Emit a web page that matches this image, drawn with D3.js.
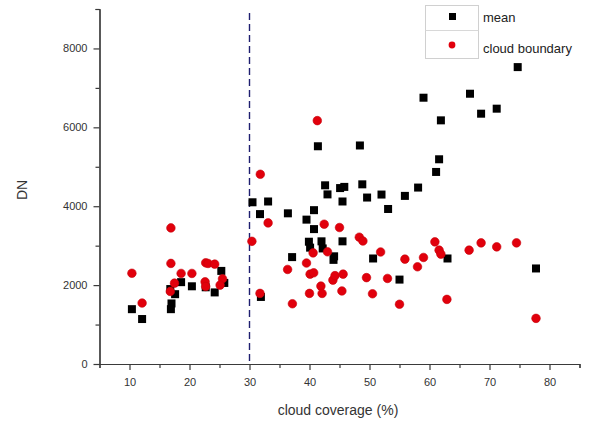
<!DOCTYPE html>
<html>
<head>
<meta charset="utf-8">
<script src="https://cdnjs.cloudflare.com/ajax/libs/d3/7.8.5/d3.min.js"></script>
<style>
	body { margin: 0; background: white; }
	svg { font-family: "Liberation Sans", Arial, sans-serif; }
</style>
</head>
<body>
<svg id="chart" width="592" height="425"></svg>
<script>
// cloud coverage (%) and DN for the "mean" series
var meanX = [10.4, 12.1, 16.9, 17.0, 17.6, 16.8, 18.6, 20.4, 22.7, 24.2, 25.3, 25.8,
	30.5, 31.75, 31.9, 33.1, 36.4, 37.1, 39.5, 39.9, 40.1, 40.75, 40.75, 41.4, 42.0, 42.2,
	42.6, 43.0, 44.1, 44.0, 45.1, 45.8, 45.5, 45.5, 48.4, 48.8, 49.6, 50.6, 52.0, 53.1,
	55.0, 55.9, 58.1, 59.0, 61.1, 61.6, 61.9, 63.0, 66.75, 68.6, 71.2, 74.7, 77.75];
var meanY = [1390, 1140, 1390, 1535, 1770, 1900, 2075, 1970, 1945, 1815, 2360, 2055,
	4100, 3800, 1700, 4120, 3820, 2710, 3660, 3100, 2950, 3900, 3420, 5520, 3110, 2930,
	4530, 4300, 2730, 2640, 4460, 4490, 4120, 3110, 5540, 4555, 4220, 2675, 4296, 3930,
	2140, 4262, 4473, 6751, 4869, 5190, 6177, 2675, 6852, 6346, 6473, 7527, 2422];

// cloud coverage (%) and DN for the "cloud boundary" series
var boundX = [10.4, 12.1, 16.9, 16.9, 16.8, 17.5, 18.6, 20.4, 22.7, 23.1, 24.2, 22.6,
	22.7, 25.5, 25.1, 30.4, 31.8, 31.75, 33.1, 36.35, 37.15, 39.5, 40.0, 40.1, 40.7, 40.6,
	41.9, 42.1, 42.45, 43.0, 43.9, 44.25, 45.0, 45.4, 45.6, 48.3, 48.9, 49.5, 50.5, 51.85,
	53.0, 55.0, 55.9, 58.0, 59.0, 60.9, 61.6, 61.9, 62.9, 66.6, 68.6, 71.2, 74.5, 77.75, 41.3];
var boundY = [2300, 1545, 3450, 2550, 1840, 2050, 2296, 2296, 2565, 2549, 2532, 2084,
	1965, 2160, 2000, 3110, 4810, 1790, 3577, 2397, 1527, 2560, 1790, 2278, 2312, 2818,
	1975, 1789, 3544, 2844, 2127, 2240, 3460, 1852, 2278, 3215, 3118, 2190, 1780, 2840,
	2169, 1515, 2658, 2464, 2701, 3097, 2886, 2785, 1638, 2886, 3071, 2970, 3071, 1157, 6170];

var xTicks = [10, 20, 30, 40, 50, 60, 70, 80];
var yTicks = [0, 2000, 4000, 6000, 8000];
var threshold = 30;

var svg = d3.select("#chart");
var margin = { left: 99.5, right: 12.5, top: 9, bottom: 61 };
var width = 592 - margin.left - margin.right;
var height = 425 - margin.top - margin.bottom;

var x = d3.scaleLinear().domain([5, 85]).range([0, width]);
var y = d3.scaleLinear().domain([0, 9000]).range([height, 0]);

var g = svg.append("g")
	.attr("transform", "translate(" + margin.left + "," + margin.top + ")");

// minor ticks first, then major ticks with labels
g.append("g")
	.attr("transform", "translate(0," + height + ")")
	.call(d3.axisBottom(x).tickValues(d3.range(5, 86, 10)).tickSize(4).tickFormat(""));
g.append("g")
	.call(d3.axisLeft(y).tickValues(d3.range(1000, 9001, 2000)).tickSize(4).tickFormat(""));

var xAxis = g.append("g")
	.attr("transform", "translate(0," + height + ")")
	.call(d3.axisBottom(x).tickValues(xTicks).tickSize(6).tickPadding(8).tickSizeOuter(0));
var yAxis = g.append("g")
	.call(d3.axisLeft(y).tickValues(yTicks).tickSize(6).tickPadding(6).tickSizeOuter(0)
		.tickFormat(d3.format("d")));

g.selectAll(".domain, .tick line")
	.attr("stroke", "#3a3a3a")
	.attr("stroke-width", 1.2);
g.selectAll(".tick text")
	.attr("fill", "#333")
	.style("font-size", "11px");

// threshold line
g.append("line")
	.attr("x1", x(threshold))
	.attr("x2", x(threshold))
	.attr("y1", 4)
	.attr("y2", height)
	.attr("stroke", "#1f1f70")
	.attr("stroke-width", 1.4)
	.attr("stroke-dasharray", "7,4");

// points
g.selectAll(".mean")
	.data(d3.range(meanX.length))
	.enter()
	.append("rect")
	.attr("class", "mean")
	.attr("x", function(i) { return x(meanX[i]) - 4; })
	.attr("y", function(i) { return y(meanY[i]) - 4; })
	.attr("width", 8)
	.attr("height", 8)
	.attr("fill", "#000");

g.selectAll(".bound")
	.data(d3.range(boundX.length))
	.enter()
	.append("circle")
	.attr("class", "bound")
	.attr("cx", function(i) { return x(boundX[i]); })
	.attr("cy", function(i) { return y(boundY[i]); })
	.attr("r", 4.3)
	.attr("fill", "#e1000c")
	.attr("stroke", "#c8000a")
	.attr("stroke-width", 0.6);

// axis titles
svg.append("text")
	.attr("x", 338)
	.attr("y", 415)
	.attr("text-anchor", "middle")
	.attr("fill", "#333")
	.style("font-size", "14px")
	.text("cloud coverage (%)");

svg.append("text")
	.attr("transform", "translate(27,190) rotate(-90)")
	.attr("text-anchor", "middle")
	.attr("fill", "#333")
	.style("font-size", "14px")
	.text("DN");

// legend
var legend = svg.append("g");
legend.append("rect")
	.attr("x", 425.5)
	.attr("y", 5.5)
	.attr("width", 53)
	.attr("height", 53)
	.attr("fill", "white")
	.attr("stroke", "#d0d0d0");
legend.append("line")
	.attr("x1", 425.5)
	.attr("x2", 478.5)
	.attr("y1", 30.5)
	.attr("y2", 30.5)
	.attr("stroke", "#d8d8d8");
legend.append("rect")
	.attr("x", 449)
	.attr("y", 13)
	.attr("width", 7)
	.attr("height", 7)
	.attr("fill", "#000");
legend.append("circle")
	.attr("cx", 452)
	.attr("cy", 45)
	.attr("r", 3.4)
	.attr("fill", "#e1000c");
legend.append("text")
	.attr("x", 483)
	.attr("y", 22)
	.attr("fill", "#222")
	.style("font-size", "13px")
	.text("mean");
legend.append("text")
	.attr("x", 483)
	.attr("y", 53)
	.attr("fill", "#222")
	.style("font-size", "13px")
	.text("cloud boundary");
</script>
</body>
</html>
